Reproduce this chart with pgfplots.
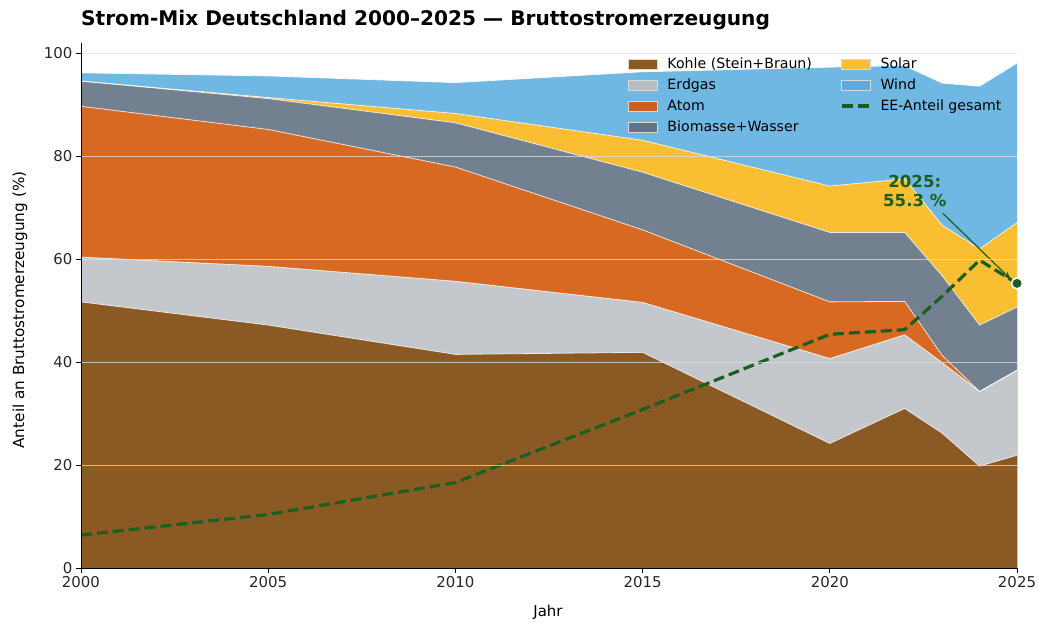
\documentclass[border=0pt]{standalone}
\usepackage{pgfplots}
\pgfplotsset{compat=1.18}
\usepackage{pgfplotstable}
\usepackage{fontspec}
\setmainfont{DejaVu Sans}
\usetikzlibrary{calc,arrows.meta}

\definecolor{kohle}{RGB}{139,90,36}
\definecolor{gas}{RGB}{196,200,204}
\definecolor{atom}{RGB}{216,105,34}
\definecolor{bio}{RGB}{114,128,143}
\definecolor{solar}{RGB}{249,190,50}
\definecolor{wind}{RGB}{112,184,228}
\definecolor{ee}{RGB}{27,94,32}
% legend patch colours
\definecolor{lkohle}{RGB}{139,90,36}
\definecolor{lgas}{RGB}{178,189,198}
\definecolor{latom}{RGB}{200,96,30}
\definecolor{lbio}{RGB}{98,117,136}
\definecolor{lsolar}{RGB}{249,190,50}
\definecolor{lwind}{RGB}{93,170,222}

% cumulative tops of the stacked areas (in %)
\pgfplotstableread{
year coal gas atom bio solar wind ee
2000 51.7 60.4 89.7 94.6 94.6 96.2 6.4
2005 47.2 58.6 85.2 91.2 91.4 95.6 10.4
2010 41.5 55.7 77.9 86.5 88.3 94.3 16.6
2015 41.9 51.6 65.7 76.9 83.1 96.4 30.8
2020 24.2 40.7 51.7 65.2 74.2 97.3 45.4
2022 31.0 45.3 51.8 65.2 75.6 97.6 46.3
2023 26.2 39.9 41.3 56.8 66.6 94.2 52.8
2024 19.8 34.3 34.3 47.2 62.0 93.6 59.8
2025 21.9 38.4 38.4 50.7 67.1 98.1 55.3
}\mixdata

\begin{document}
\begin{tikzpicture}
\begin{axis}[
  name=ax,
  scale only axis,
  width=936bp, height=525bp,
  xmin=2000, xmax=2025, ymin=0, ymax=102,
  xtick={2000,2005,...,2025},
  ytick={0,20,...,100},
  x tick label style={/pgf/number format/1000 sep={}},
  /pgf/number format/assume math mode=true,
  tick label style={font=\fontsize{15}{18}\selectfont, text=black!85},
  axis lines*=left,
  axis line style={black, line width=0.9bp},
  tick align=outside,
  major tick length=5bp,
  tick style={black, line width=0.9bp},
  ymajorgrids,
  major grid style={color=gray!25, opacity=0.75, line width=0.8bp},
  axis on top,
  clip=false,
  legend columns=2,
  legend cell align=left,
  legend style={
    at={(0.5812,0.979)}, anchor=north west,
    draw=none, fill=none,
    font=\fontsize{14.2}{16}\selectfont,
    row sep=4.6bp,
    /tikz/every even column/.append style={column sep=26bp},
  },
]
% areas (each filled down to 0, drawn from top layer down)
\addplot[fill=wind, draw=none, forget plot] table[x=year,y=wind]{\mixdata} \closedcycle;
\addplot[fill=solar, draw=none, forget plot] table[x=year,y=solar]{\mixdata} \closedcycle;
\addplot[fill=bio, draw=none, forget plot] table[x=year,y=bio]{\mixdata} \closedcycle;
\addplot[fill=atom, draw=none, forget plot] table[x=year,y=atom]{\mixdata} \closedcycle;
\addplot[fill=gas, draw=none, forget plot] table[x=year,y=gas]{\mixdata} \closedcycle;
\addplot[fill=kohle, draw=none, forget plot] table[x=year,y=coal]{\mixdata} \closedcycle;
% white separators
\addplot[white, opacity=0.8, line width=0.8bp, forget plot] table[x=year,y=wind]{\mixdata};
\addplot[white, opacity=0.8, line width=0.8bp, forget plot] table[x=year,y=solar]{\mixdata};
\addplot[white, opacity=0.8, line width=0.8bp, forget plot] table[x=year,y=bio]{\mixdata};
\addplot[white, opacity=0.8, line width=0.8bp, forget plot] table[x=year,y=atom]{\mixdata};
\addplot[white, opacity=0.8, line width=0.8bp, forget plot] table[x=year,y=gas]{\mixdata};
\addplot[white, opacity=0.8, line width=0.8bp, forget plot] table[x=year,y=coal]{\mixdata};
% EE share
\addplot[ee, line width=3.2bp, dash pattern=on 11bp off 5bp, forget plot] table[x=year,y=ee]{\mixdata};
% 2025 marker
\addplot[only marks, mark=*, mark size=5.5bp, mark options={fill=ee, draw=white, line width=1.6bp}, forget plot] coordinates {(2025,55.3)};
% annotation
\draw[ee, line width=1.2bp, -{Stealth[length=7bp,width=6bp]}] (axis cs:2023.02,68.9) -- (axis cs:2024.82,56.2);
\node[ee, font=\fontsize{16.6}{19.5}\selectfont\bfseries, align=center] at (axis cs:2022.27,73.3) {2025:\\55.3 \%};

% legend (row-major order)
\addlegendimage{legend image code/.code={\filldraw[fill=lkohle, draw=white!85!black, line width=0.6bp] (0bp,-5bp) rectangle (29bp,5bp); \path[draw=none,fill=none] (0bp,0bp) -- (37bp,0bp);}}\addlegendentry{Kohle (Stein+Braun)}
\addlegendimage{legend image code/.code={\filldraw[fill=lsolar, draw=white!85!black, line width=0.6bp] (0bp,-5bp) rectangle (29bp,5bp); \path[draw=none,fill=none] (0bp,0bp) -- (37bp,0bp);}}\addlegendentry{Solar}
\addlegendimage{legend image code/.code={\filldraw[fill=lgas, draw=white!85!black, line width=0.6bp] (0bp,-5bp) rectangle (29bp,5bp); \path[draw=none,fill=none] (0bp,0bp) -- (37bp,0bp);}}\addlegendentry{Erdgas}
\addlegendimage{legend image code/.code={\filldraw[fill=lwind, draw=white!85!black, line width=0.6bp] (0bp,-5bp) rectangle (29bp,5bp); \path[draw=none,fill=none] (0bp,0bp) -- (37bp,0bp);}}\addlegendentry{Wind}
\addlegendimage{legend image code/.code={\filldraw[fill=latom, draw=white!85!black, line width=0.6bp] (0bp,-5bp) rectangle (29bp,5bp); \path[draw=none,fill=none] (0bp,0bp) -- (37bp,0bp);}}\addlegendentry{Atom}
\addlegendimage{legend image code/.code={\draw[ee, line width=3.2bp, dash pattern=on 11bp off 5bp] (0bp,0bp) -- (29bp,0bp); \path[draw=none,fill=none] (0bp,0bp) -- (37bp,0bp);}}\addlegendentry{EE-Anteil gesamt}
\addlegendimage{legend image code/.code={\filldraw[fill=lbio, draw=white!85!black, line width=0.6bp] (0bp,-5bp) rectangle (29bp,5bp); \path[draw=none,fill=none] (0bp,0bp) -- (37bp,0bp);}}\addlegendentry{Biomasse+Wasser}
\end{axis}
\node[anchor=west, inner sep=0pt, font=\fontsize{20.2}{24}\selectfont\bfseries] at ($(ax.north west)+(0bp,23bp)$) {Strom-Mix Deutschland 2000–2025 — Bruttostromerzeugung};
\node[font=\fontsize{15}{18}\selectfont] at ($(ax.south west)+(467bp,-44bp)$) {Jahr};
\node[rotate=90, font=\fontsize{15.3}{18}\selectfont] at ($(ax.south west)+(-61bp,258bp)$) {Anteil an Bruttostromerzeugung (\%)};
\pgfresetboundingbox
\path[use as bounding box] ($(ax.south west)+(-81bp,-56bp)$) rectangle ($(ax.north east)+(22bp,43bp)$);
\end{tikzpicture}
\end{document}
